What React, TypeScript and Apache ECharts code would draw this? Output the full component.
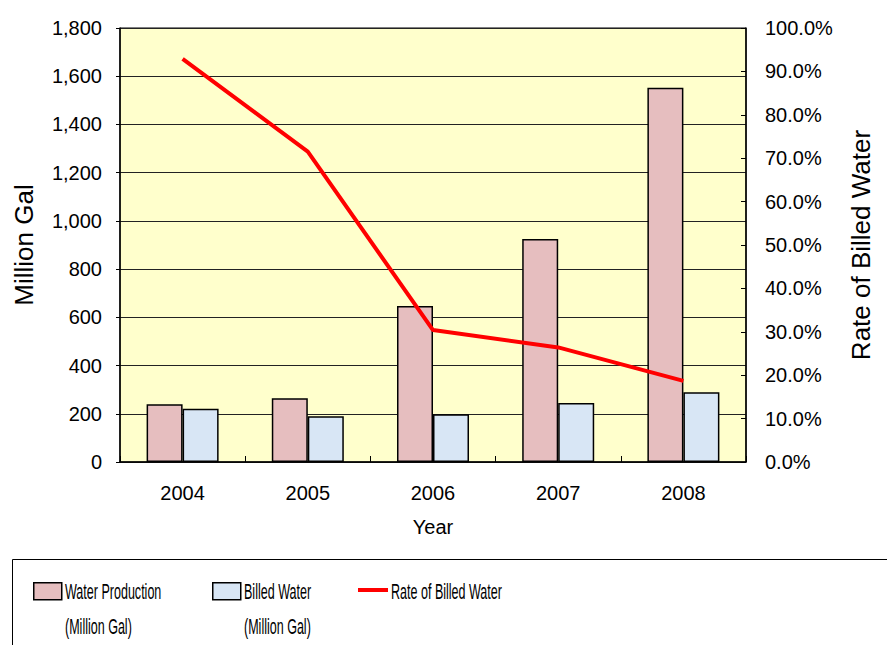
import React, { useEffect, useRef } from "react";
import * as echarts from "echarts";

const years = ["2004", "2005", "2006", "2007", "2008"];
const waterProduction = [239, 264, 647, 925, 1552];
const billedWater = [221, 190, 198, 245, 289];
const billedRate = [0.929, 0.715, 0.304, 0.264, 0.187];

const LEFT_MAX = 1800;
const LEFT_STEP = 200;
const RIGHT_MAX = 1;
const RIGHT_STEP = 0.1;

const FONT = "'Liberation Sans', Arial, sans-serif";

const legendLabels = [
  { text: "Water Production", x: 65, y: 592 },
  { text: "(Million Gal)", x: 65, y: 627 },
  { text: "Billed Water", x: 244, y: 592 },
  { text: "(Million Gal)", x: 244, y: 627 },
  { text: "Rate of Billed Water", x: 391, y: 592 },
];

export default function App() {
  const ref = useRef<HTMLDivElement>(null);
  useEffect(() => {
    if (!ref.current) return;
    const chart = echarts.init(ref.current, null, { renderer: "svg" });
    const legendCommon = {
      padding: 0,
      selectedMode: false,
      formatter: () => "",
      textStyle: { fontSize: 1 },
    };
    const option: any = {
      animation: false,
      backgroundColor: "#ffffff",
      textStyle: { fontFamily: FONT },
      grid: {
        left: 120,
        right: 141,
        top: 28,
        bottom: 183,
        show: true,
        backgroundColor: "#FFFFCC",
        borderColor: "#000",
        borderWidth: 1,
      },
      xAxis: {
        type: "category",
        data: years,
        boundaryGap: true,
        name: "Year",
        nameLocation: "middle",
        nameGap: 55,
        nameTextStyle: { fontSize: 20, color: "#000", fontFamily: FONT },
        axisLine: { lineStyle: { color: "#000", width: 1.5 } },
        axisTick: { show: true, inside: true, length: 6, lineStyle: { color: "#000" } },
        axisLabel: { fontSize: 20, color: "#000", margin: 21, fontFamily: FONT },
      },
      yAxis: [
        {
          type: "value",
          min: 0,
          max: LEFT_MAX,
          interval: LEFT_STEP,
          name: "Million Gal",
          nameLocation: "middle",
          nameRotate: 90,
          nameGap: 83,
          nameTextStyle: { fontSize: 26, color: "#000", fontFamily: FONT },
          axisLine: { show: true, lineStyle: { color: "#000", width: 1.5 } },
          axisTick: { show: true, length: 4, lineStyle: { color: "#000" } },
          axisLabel: {
            fontSize: 20,
            color: "#000",
            margin: 18,
            fontFamily: FONT,
            formatter: (v: number) => v.toLocaleString("en-US"),
          },
          splitLine: { show: true, lineStyle: { color: "#222", width: 1 } },
        },
        {
          type: "value",
          min: 0,
          max: RIGHT_MAX,
          interval: RIGHT_STEP,
          position: "right",
          name: "Rate of Billed Water",
          nameLocation: "middle",
          nameRotate: 90,
          nameGap: 102,
          nameTextStyle: { fontSize: 26, color: "#000", fontFamily: FONT },
          axisLine: { show: true, lineStyle: { color: "#000", width: 1.5 } },
          axisTick: { show: true, inside: true, length: 5, lineStyle: { color: "#000" } },
          axisLabel: {
            fontSize: 20,
            color: "#000",
            margin: 19,
            fontFamily: FONT,
            formatter: (v: number) => (v * 100).toFixed(1) + "%",
          },
          splitLine: { show: false },
        },
      ],
      legend: [
        {
          ...legendCommon,
          data: [{ name: "Water Production", icon: "rect" }],
          left: 33,
          top: 582,
          itemWidth: 28,
          itemHeight: 17,
          itemStyle: { borderColor: "#000", borderWidth: 1.5 },
        },
        {
          ...legendCommon,
          data: [{ name: "Billed Water", icon: "rect" }],
          left: 212,
          top: 582,
          itemWidth: 28,
          itemHeight: 17,
          itemStyle: { borderColor: "#000", borderWidth: 1.5 },
        },
        {
          ...legendCommon,
          data: [{ name: "Rate of Billed Water", icon: "rect" }],
          left: 358,
          top: 588,
          itemWidth: 30,
          itemHeight: 4,
          itemStyle: { color: "#FF0000", borderWidth: 0 },
        },
      ],
      graphic: [
        {
          type: "rect",
          left: 10,
          top: 557,
          shape: { x: 0, y: 0, width: 900, height: 120 },
          style: { fill: "none", stroke: "#000", lineWidth: 1 },
          silent: true,
        },
        ...legendLabels.map((l) => ({
          type: "text",
          x: l.x,
          y: l.y,
          scaleX: 0.57,
          style: {
            text: l.text,
            x: 0,
            y: 0,
            fontSize: 22,
            fill: "#000",
            fontFamily: FONT,
            textAlign: "left",
            textVerticalAlign: "middle",
          },
          silent: true,
        })),
      ],
      series: [
        {
          name: "Water Production",
          type: "bar",
          data: waterProduction,
          barWidth: 36,
          barGap: "0%",
          itemStyle: { color: "#E6BEBF", borderColor: "#000", borderWidth: 1.5 },
          z: 2,
        },
        {
          name: "Billed Water",
          type: "bar",
          data: billedWater,
          barWidth: 36,
          barGap: "0%",
          itemStyle: { color: "#D8E6F5", borderColor: "#000", borderWidth: 1.5 },
          z: 2,
        },
        {
          name: "Rate of Billed Water",
          type: "line",
          yAxisIndex: 1,
          data: billedRate,
          symbol: "none",
          lineStyle: { color: "#FF0000", width: 4 },
          itemStyle: { color: "#FF0000" },
          z: 3,
        },
      ],
    };
    chart.setOption(option);
    return () => chart.dispose();
  }, []);
  return (
    <div
      ref={ref}
      style={{ position: "fixed", left: 0, top: 0, width: 887, height: 645 }}
    />
  );
}
